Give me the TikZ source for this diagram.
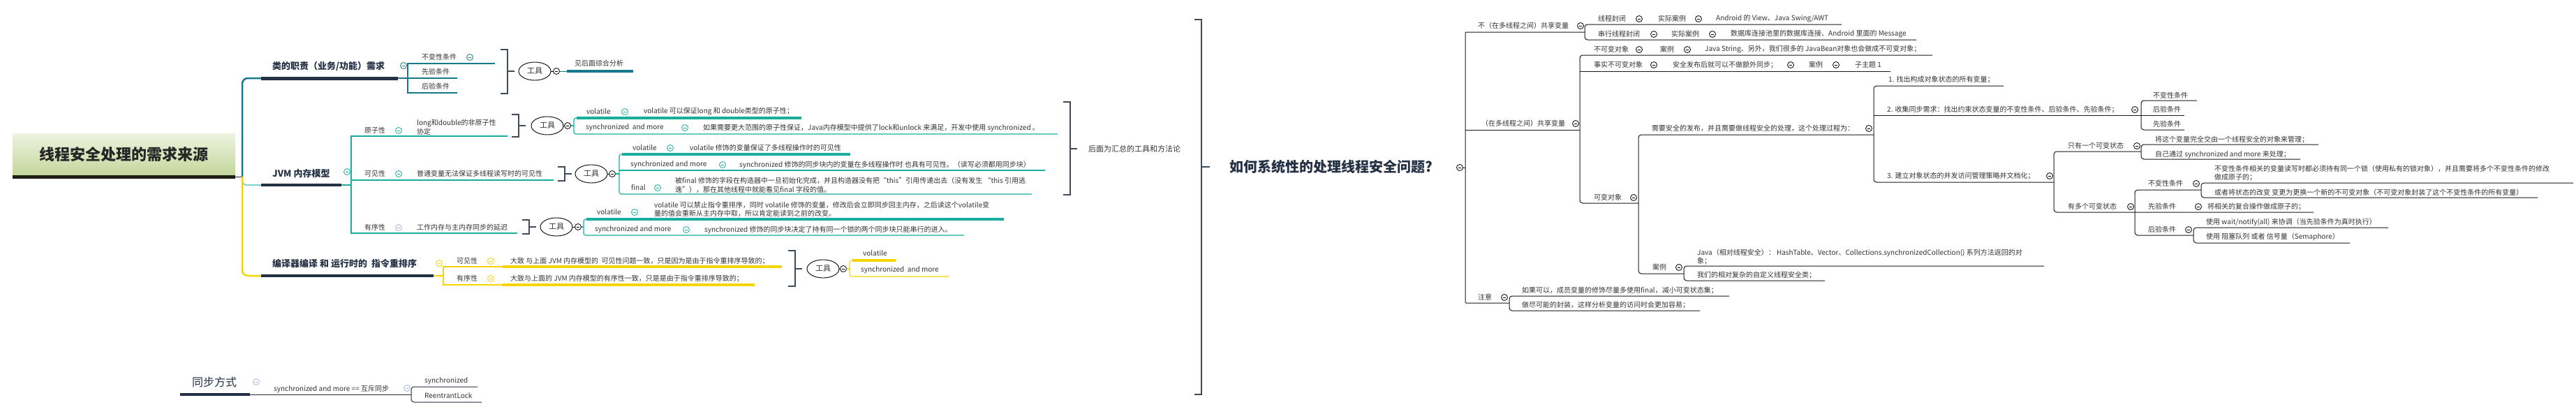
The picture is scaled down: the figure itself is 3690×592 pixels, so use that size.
\documentclass[tikz,border=0pt]{standalone}
\usepackage{fontspec}
\setmainfont{Noto Sans CJK SC}
\usetikzlibrary{shapes.geometric}
\definecolor{tealA}{HTML}{17798B}
\definecolor{tealB}{HTML}{1AAE9F}
\definecolor{tealL}{HTML}{7FD3CB}
\definecolor{yel}{HTML}{F5D400}
\definecolor{navy}{HTML}{243044}
\definecolor{txt}{HTML}{333333}
\definecolor{brkc}{HTML}{3E4A5E}
\definecolor{lav}{HTML}{A9B6E6}
\definecolor{rootT}{HTML}{EEF3E0}
\definecolor{rootB}{HTML}{C3D79B}
\definecolor{rootbar}{HTML}{201F14}
\definecolor{rl}{HTML}{1A1A1A}
\tikzset{
 tx/.style={anchor=west,inner sep=0pt,text=txt,font=\fontsize{10}{12.5}\selectfont,align=left},
 hd/.style={anchor=west,inner sep=0pt,text=navy,font=\fontsize{13}{15}\selectfont\bfseries},
 brkt/.style={draw=brkc,line width=1.3pt},
 rline/.style={draw=rl,line width=1pt,rounded corners=4pt},
 tool/.style={ellipse,draw=black,line width=0.9pt,fill=white,minimum width=46pt,minimum height=26pt,inner sep=0pt,font=\fontsize{11}{13}\selectfont,text=txt},
 pics/mc/.style={code={\draw[line width=0.8pt,fill=white,draw=#1](0,0) circle (4.5pt);\draw[line width=0.8pt,draw=#1](-2.3pt,0)--(2.3pt,0);}},
}
\newcommand\Bkt[4]{\draw[brkt] (#1-10,#2)--(#1,#2)--(#1,#3)--(#1-10,#3); \draw[brkt] (#1,#4)--(#1+10,#4);}
\begin{document}
\begin{tikzpicture}[x=1pt,y=-1pt]
\useasboundingbox (0,0) rectangle (3690,592);
\fill[white] (0,0) rectangle (3690,592);

% ===== root =====
\shade[top color=rootT,bottom color=rootB] (18,191) rectangle (337,251);
\fill[rootbar] (18,251) rectangle (337,256);
\node[font=\fontsize{22}{26}\selectfont\bfseries,text=black!85] (root) at (177,221) {线程安全处理的需求来源};
\draw[navy,line width=1pt] (337,253)--(347,253);
\draw[tealA,line width=2.5pt,rounded corners=8pt] (347,253)--(347,112)--(374,112);
\draw[tealL,line width=2pt,rounded corners=6pt] (347,253)--(347,265)--(374,265);
\draw[yel,line width=2.5pt,rounded corners=8pt] (347,253)--(347,395)--(374,395);

% ===== branch 1 =====
\node[hd] (b1) at (390,95) {类的职责（业务/功能）需求};
\fill[navy] (374,110) rectangle (570,114.5);
\pic at (578,94) {mc=tealA};
\draw[tealA,line width=1.1pt] (570,112)--(655,112);
\draw[tealA,line width=1.1pt] (709,91)--(584,91)--(584,133)--(655,133);
\node[tx] (b1a) at (604,82) {不变性条件};
\pic at (673,82) {mc=tealA};
\node[tx] (b1b) at (604,103) {先验条件};
\node[tx] (b1c) at (604,124) {后验条件};
\Bkt{727}{71}{134}{102}
\node[tool] (e1) at (766,102) {工具};
\draw[line width=0.9pt] (e1.east)--(792.5,102);
\pic at (797,102) {mc=black};
\draw[tealA,line width=1pt] (801.5,102)--(812,102);
\draw[tealA,line width=4pt] (812,102)--(907,102);
\node[tx] (e1a) at (823,91) {见后面综合分析};

% ===== branch 2 JVM =====
\node[hd] (b2) at (390,249) {JVM 内存模型};
\fill[navy] (374,263) rectangle (489,267);
\pic at (497,246) {mc=tealB};
\draw[tealB,line width=1.1pt] (489,265)--(503,265);
\draw[tealB,line width=1.1pt] (727,195)--(503,195)--(503,334)--(741,334);
\draw[tealB,line width=1.1pt] (503,258)--(793,258);
% atomicity
\node[tx] (a0) at (522,187) {原子性};
\pic at (571,187) {mc=tealB};
\node[tx] (a1) at (597,182) {long和double的非原子性\\协定};
\Bkt{743}{164}{196}{180}
\node[tool] (e2) at (784,180) {工具};
\draw[line width=0.9pt] (e2.east)--(808.5,180);
\pic at (813,180) {mc=black};
\draw[tealB,line width=1.1pt,rounded corners=3pt] (817.5,180)--(822,180);
\draw[tealB,line width=4pt] (826,169)--(1148,169);
\draw[tealB,line width=1.1pt,rounded corners=3pt] (830,169)--(822,169)--(822,192)--(1515,192);
\node[tx] (a2) at (840,160) {volatile};
\pic at (895,160) {mc=tealB};
\node[tx] (a3) at (922,160) {volatile 可以保证long 和 double类型的原子性；};
\node[tx] (a4) at (839,183) {synchronized \ and more};
\pic at (981,183) {mc=tealB};
\node[tx] (a5) at (1007,183) {如果需要更大范围的原子性保证，Java内存模型中提供了lock和unlock 来满足，开发中使用 synchronized 。};
% visibility
\node[tx] (v0) at (522,249) {可见性};
\pic at (571,249) {mc=tealB};
\node[tx] (v1) at (597,249) {普通变量无法保证多线程读写时的可见性};
\Bkt{809}{239}{259}{249}
\node[tool] (e3) at (847,249) {工具};
\draw[line width=0.9pt] (e3.east)--(872.5,249);
\pic at (877,249) {mc=black};
\draw[tealB,line width=1.1pt] (881.5,249)--(887,249);
\draw[tealB,line width=4pt] (891,221)--(1218,221);
\draw[tealB,line width=1.1pt,rounded corners=3pt] (895,221)--(887,221)--(887,278)--(1478,278);
\draw[tealB,line width=1.1pt] (887,244)--(1497,244);
\node[tx] (v2) at (906,212) {volatile};
\pic at (960,212) {mc=tealB};
\node[tx] (v3) at (988,212) {volatile 修饰的变量保证了多线程操作时的可见性};
\node[tx] (v4) at (903,236) {synchronized and more};
\pic at (1035,236) {mc=tealB};
\node[tx] (v5) at (1059,236) {synchronized 修饰的同步块内的变量在多线程操作时 也具有可见性。（读写必须都用同步块）};
\node[tx] (v6) at (904,269) {final};
\pic at (942,269) {mc=tealB};
\node[tx] (v7) at (967,265) {被final 修饰的字段在构造器中一旦初始化完成，并且构造器没有把“this”引用传递出去（没有发生 “this 引用逃\\逸”），那在其他线程中就能看见final 字段的值。};
% ordering
\node[tx] (o0) at (522,326) {有序性};
\pic at (571,326) {mc=lav};
\node[tx] (o1) at (597,326) {工作内存与主内存同步的延迟};
\Bkt{758}{315}{335}{325}
\node[tool] (e4) at (797,325) {工具};
\draw[line width=0.9pt] (e4.east)--(823.5,325);
\pic at (828,325) {mc=black};
\draw[tealB,line width=1.1pt] (832.5,325)--(836,325);
\draw[tealB,line width=4pt] (840,314)--(1438,314);
\draw[tealB,line width=1.1pt,rounded corners=3pt] (844,314)--(836,314)--(836,337)--(1381,337);
\node[tx] (o2) at (855,304) {volatile};
\pic at (909,304) {mc=tealB};
\node[tx] (o3) at (937,300) {volatile 可以禁止指令重排序，同时 volatile 修饰的变量，修改后会立即同步回主内存，之后读这个volatile变\\量的值会重新从主内存中取，所以肯定能读到之前的改变。};
\node[tx] (o4) at (852,329) {synchronized and more};
\pic at (983,329) {mc=tealB};
\node[tx] (o5) at (1009,329) {synchronized 修饰的同步块决定了持有同一个锁的两个同步块只能串行的进入。};

% ===== branch 3 =====
\node[hd] (b3) at (390,378) {编译器编译 和 运行时的 \ 指令重排序};
\fill[navy] (374,393) rectangle (621,397);
\pic at (629,377) {mc=yel};
\draw[yel,line width=1.1pt] (621,395)--(635,395);
\draw[yel,line width=1.1pt] (720,382)--(635,382)--(635,408)--(720,408);
\draw[yel,line width=4pt] (720,382)--(1120,382);
\draw[yel,line width=4pt] (720,408)--(1081,408);
\node[tx] (c0) at (654,374) {可见性};
\pic at (703,374) {mc=yel};
\node[tx] (c1) at (731,374) {大致 与上面 JVM 内存模型的 \ 可见性问题一致，只是因为是由于指令重排序导致的；};
\node[tx] (c2) at (654,399) {有序性};
\pic at (703,399) {mc=yel};
\node[tx] (c3) at (731,399) {大致与上面的 JVM 内存模型的有序性一致，只是是由于指令重排序导致的；};
\Bkt{1139}{359}{410}{385}
\node[tool] (e5) at (1179,385) {工具};
\draw[line width=0.9pt] (e5.east)--(1203.5,385);
\pic at (1208,385) {mc=black};
\draw[yel,line width=1.1pt] (1212.5,385)--(1217,385);
\draw[yel,line width=4pt] (1221,373)--(1283,373);
\draw[yel,line width=1.1pt,rounded corners=3pt] (1225,373)--(1217,373)--(1217,396)--(1360,396);
\node[tx] (c4) at (1236,363) {volatile};
\node[tx] (c5) at (1233,387) {synchronized \ and more};

% ===== 同步方式 =====
\node[anchor=west,inner sep=0pt,text=navy,font=\fontsize{16}{18}\selectfont] (s0) at (275,547) {同步方式};
\fill[navy] (258,563) rectangle (358,567);
\pic at (367,547) {mc=lav};
\draw[navy,line width=1pt] (358,565)--(589,565);
\node[tx] (s1) at (392,557) {synchronized and more == 互斥同步};
\pic at (583,556) {mc=lav};
\draw[navy,line width=1pt,rounded corners=4pt] (684,554)--(589,554)--(589,576)--(690,576);
\node[tx] (s2) at (608,546) {synchronized};
\node[tx] (s3) at (608,567) {ReentrantLock};

% ===== middle =====
\Bkt{1533}{146}{279}{213}
\node[tx,font=\fontsize{11}{13}\selectfont] (m1) at (1559,213) {后面为汇总的工具和方法论};
\draw[brkt] (1711,28)--(1721,28)--(1721,565)--(1711,565);
\draw[brkt] (1721,239)--(1733,239);
\node[anchor=west,inner sep=0pt,text=navy,font=\fontsize{20}{24}\selectfont\bfseries] (q) at (1761,239) {如何系统性的处理线程安全问题?};
\pic at (2091,240) {mc=black};

% ===== right tree =====
\draw[rline,rounded corners=1pt] (2270,46)--(2099,46)--(2099,434)--(2162,434);
\draw[rline] (2095.5,240)--(2099,240);
\draw[rline] (2099,186)--(2263,186);
% not shared
\node[tx] (r1) at (2117,37) {不（在多线程之间）共享变量};
\pic at (2264,37) {mc=black};
\draw[rline] (2638,35)--(2270,35)--(2270,57)--(2745,57);
\node[tx] (r1a) at (2289,27) {线程封闭};
\pic at (2348,27) {mc=black};
\node[tx] (r1b) at (2375,27) {实际案例};
\pic at (2433,27) {mc=black};
\node[tx] (r1c) at (2458,27) {Android 的 View、Java Swing/AWT};
\node[tx] (r1d) at (2289,49) {串行线程封闭};
\pic at (2369,49) {mc=black};
\node[tx] (r1e) at (2394,49) {实际案例};
\pic at (2453,49) {mc=black};
\node[tx] (r1f) at (2479,49) {数据库连接池里的数据库连接、Android 里面的 Message};
% shared
\node[tx] (r2) at (2122,177) {（在多线程之间）共享变量};
\pic at (2257,177) {mc=black};
\draw[rline] (2768,79)--(2263,79)--(2263,291)--(2347,291);
\draw[rline] (2263,102)--(2708,102);
\node[tx] (r2a) at (2283,71) {不可变对象};
\pic at (2348,71) {mc=black};
\node[tx] (r2b) at (2378,71) {案例};
\pic at (2417,71) {mc=black};
\node[tx] (r2c) at (2442,71) {Java String、另外，我们很多的 JavaBean对象也会做成不可变对象；};
\node[tx] (r2d) at (2283,93) {事实不可变对象};
\pic at (2369,93) {mc=black};
\node[tx] (r2e) at (2396,93) {安全发布后就可以不做额外同步；};
\pic at (2565,93) {mc=black};
\node[tx] (r2f) at (2591,93) {案例};
\pic at (2630,93) {mc=black};
\node[tx] (r2g) at (2657,93) {子主题 1};
\node[tx] (r3) at (2283,283) {可变对象};
\pic at (2340,283) {mc=black};
\draw[rline] (2684,193)--(2347,193)--(2347,392)--(2412,392);
\node[tx] (r3a) at (2366,184) {需要安全的发布，并且需要做线程安全的处理，这个处理过程为：};
\pic at (2677,184) {mc=black};
\draw[rline] (2870,123)--(2684,123)--(2684,261)--(2942,261);
\draw[rline] (2684,165)--(3067,165);
\node[tx] (p1) at (2705,114) {1. 找出构成对象状态的所有变量；};
\node[tx] (p2) at (2703,157) {2. 收集同步需求：找出约束状态变量的不变性条件、后验条件、先验条件；};
\pic at (3058,157) {mc=black};
\draw[rline] (3147,144)--(3067,144)--(3067,186)--(3129,186);
\draw[rline] (3067,165)--(3129,165);
\node[tx] (p2a) at (3084,137) {不变性条件};
\node[tx] (p2b) at (3084,157) {后验条件};
\node[tx] (p2c) at (3084,178) {先验条件};
\node[tx] (p3) at (2703,252) {3. 建立对象状态的并发访问管理策略并文档化；};
\pic at (2936,252) {mc=black};
\draw[rline] (3067,217)--(2942,217)--(2942,304)--(3314,304);
\node[tx] (p3a) at (2962,209) {只有一个可变状态};
\pic at (3061,209) {mc=black};
\draw[rline] (3321,207)--(3067,207)--(3067,228)--(3295,228);
\node[tx] (p3a1) at (3087,200) {将这个变量完全交由一个线程安全的对象来管理；};
\node[tx] (p3a2) at (3087,221) {自己通过 synchronized and more 来处理；};
\node[tx] (p3b) at (2962,296) {有多个可变状态};
\pic at (3052,296) {mc=black};
\draw[rline] (3153,272)--(3058,272)--(3058,337)--(3142,337);
\node[tx] (p3b1) at (3077,263) {不变性条件};
\pic at (3146,263) {mc=black};
\draw[rline] (3686,262)--(3153,262)--(3153,283)--(3635,283);
\node[tx] (p3b1a) at (3172,248) {不变性条件相关的变量读写时都必须持有同一个锁（使用私有的锁对象），并且需要将多个不变性条件的修改\\做成原子的；};
\node[tx] (p3b1b) at (3172,276) {或者将状态的改变 变更为更换一个新的不可变对象（不可变对象封装了这个不变性条件的所有变量）};
\node[tx] (p3b2) at (3077,296) {先验条件};
\pic at (3149,296) {mc=black};
\node[tx] (p3b2a) at (3162,296) {将相关的复合操作做成原子的；};
\node[tx] (p3b3) at (3077,329) {后验条件};
\pic at (3135,329) {mc=black};
\draw[rline] (3421,326)--(3142,326)--(3142,348)--(3366,348);
\node[tx] (p3b3a) at (3160,318) {使用 wait/notify(all) 来协调（当先验条件为真时执行）};
\node[tx] (p3b3b) at (3160,339) {使用 阻塞队列 或者 信号量（Semaphore）};
% cases
\node[tx] (r4) at (2367,383) {案例};
\pic at (2405,383) {mc=black};
\draw[rline] (2928,381)--(2412,381)--(2412,402)--(2614,402);
\node[tx] (r4a) at (2431,368) {Java（相对线程安全）： HashTable、Vector、Collections.synchronizedCollection() 系列方法返回的对\\象；};
\node[tx] (r4b) at (2431,394) {我们的相对复杂的自定义线程安全类；};
% note
\node[tx] (r5) at (2117,426) {注意};
\pic at (2155,426) {mc=black};
\draw[rline] (2477,424)--(2162,424)--(2162,445)--(2435,445);
\node[tx] (r5a) at (2180,416) {如果可以，成员变量的修饰尽量多使用final，减小可变状态集；};
\node[tx] (r5b) at (2180,437) {做尽可能的封装，这样分析变量的访问时会更加容易；};
\end{tikzpicture}
\end{document}
